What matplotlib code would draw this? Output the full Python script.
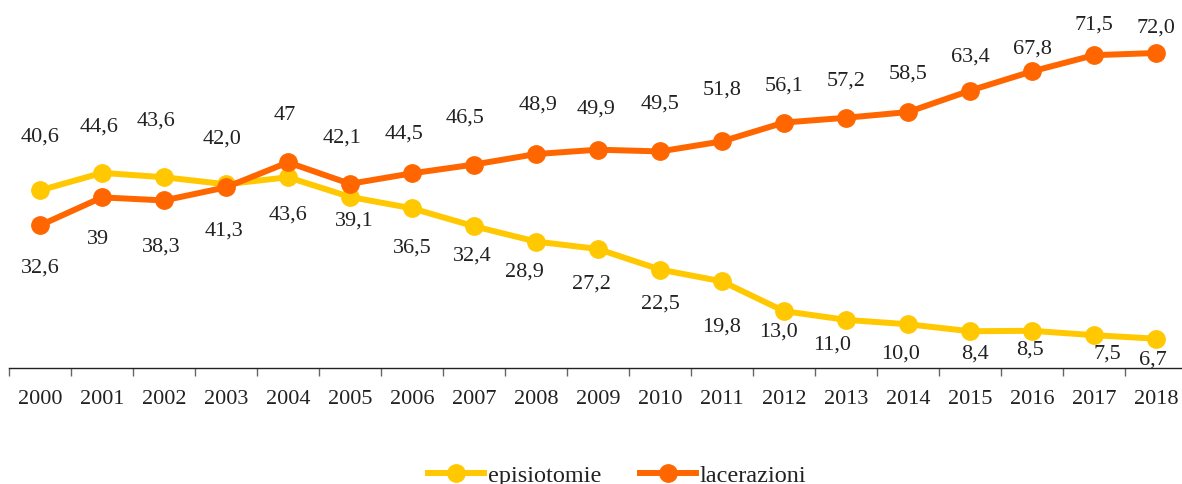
import matplotlib
matplotlib.use("Agg")
import matplotlib.pyplot as plt
import numpy as np

years = [str(y) for y in range(2000, 2019)]
episiotomie = [40.6, 44.6, 43.6, 42.0, 43.6, 39.1, 36.5, 32.4, 28.9, 27.2, 22.5, 19.8,
               13.0, 11.0, 10.0, 8.4, 8.5, 7.5, 6.7]
lacerazioni = [32.6, 39, 38.3, 41.3, 47, 42.1, 44.5, 46.5, 48.9, 49.9, 49.5, 51.8,
               56.1, 57.2, 58.5, 63.4, 67.8, 71.5, 72.0]
epi_labels = ["40,6", "44,6", "43,6", "42,0", "43,6", "39,1", "36,5", "32,4", "28,9", "27,2",
              "22,5", "19,8", "13,0", "11,0", "10,0", "8,4", "8,5", "7,5", "6,7"]
lac_labels = ["32,6", "39", "38,3", "41,3", "47", "42,1", "44,5", "46,5", "48,9", "49,9",
              "49,5", "51,8", "56,1", "57,2", "58,5", "63,4", "67,8", "71,5", "72,0"]

# label offsets from the marker, in pixels (dx right, dy up)
epi_dx = [0, -3, -8, -4, 0, 4, 0, -2, -12, -7, 0, 0, -6, -14, -7, 5, -2, 13, -3]
epi_dy = [54, 47, 57, 46, -37, -23, -39, -29, -29, -34, -33, -45, -20, -24, -29, -22, -18, -18, -20]
lac_dx = [0, -4, -3, -2, -3, -8, -8, -9, 2, -2, 0, 0, 0, 0, 0, 0, 0, 0, 0]
lac_dy = [-42, -41, -46, -43, 48, 47, 40, 48, 50, 42, 48, 52, 38, 38, 39, 35, 23, 31, 26]

plt.rcParams['font.family'] = ['Liberation Serif', 'DejaVu Serif']

W, H = 1182, 485
fig = plt.figure(figsize=(W / 100, H / 100), dpi=100)
ax = fig.add_axes([9 / W, (H - 369) / H, 1178 / W, 350 / H])
ax.set_xlim(-0.5, 18.5)
ax.set_ylim(0, 80)

yellow = '#FFC800'
orange = '#FF6600'
txt = '#222222'
x = np.arange(len(years))
ax.plot(x, episiotomie, color=yellow, lw=4.3, marker='o', ms=12.5, label='episiotomie', zorder=3)
ax.plot(x, lacerazioni, color=orange, lw=4.3, marker='o', ms=12.5, label='lacerazioni', zorder=4)

pt = 72 / 100.0  # points per pixel
def place(vals, labels, dxs, dys):
    for i, (v, t, dx, dy) in enumerate(zip(vals, labels, dxs, dys)):
        ax.annotate(t, (i, v), xytext=(dx * pt, dy * pt), textcoords='offset points',
                    ha='center', va='center', fontsize=16, color=txt, zorder=5,
                    annotation_clip=False)

place(episiotomie, epi_labels, epi_dx, epi_dy)
place(lacerazioni, lac_labels, lac_dx, lac_dy)

for s in ['top', 'right', 'left']:
    ax.spines[s].set_visible(False)
ax.spines['bottom'].set_color('#222222')
ax.spines['bottom'].set_linewidth(1.0)
ax.set_yticks([])
ax.set_xticks(x)
ax.set_xticklabels(years, fontsize=16, color=txt)
ax.tick_params(axis='x', which='major', length=0, pad=15)
ax.set_xticks(np.arange(-0.5, 19, 1), minor=True)
ax.tick_params(axis='x', which='minor', length=6, width=1, color='#666666', direction='out')

leg = fig.legend(loc='center', bbox_to_anchor=(0.522, 0.018), ncol=2, frameon=False,
                 fontsize=17.5, handlelength=2.3, columnspacing=1.6, handletextpad=0.15,
                 borderpad=0.0)
for t in leg.get_texts():
    t.set_color(txt)

fig.savefig('out.png', dpi=100)
